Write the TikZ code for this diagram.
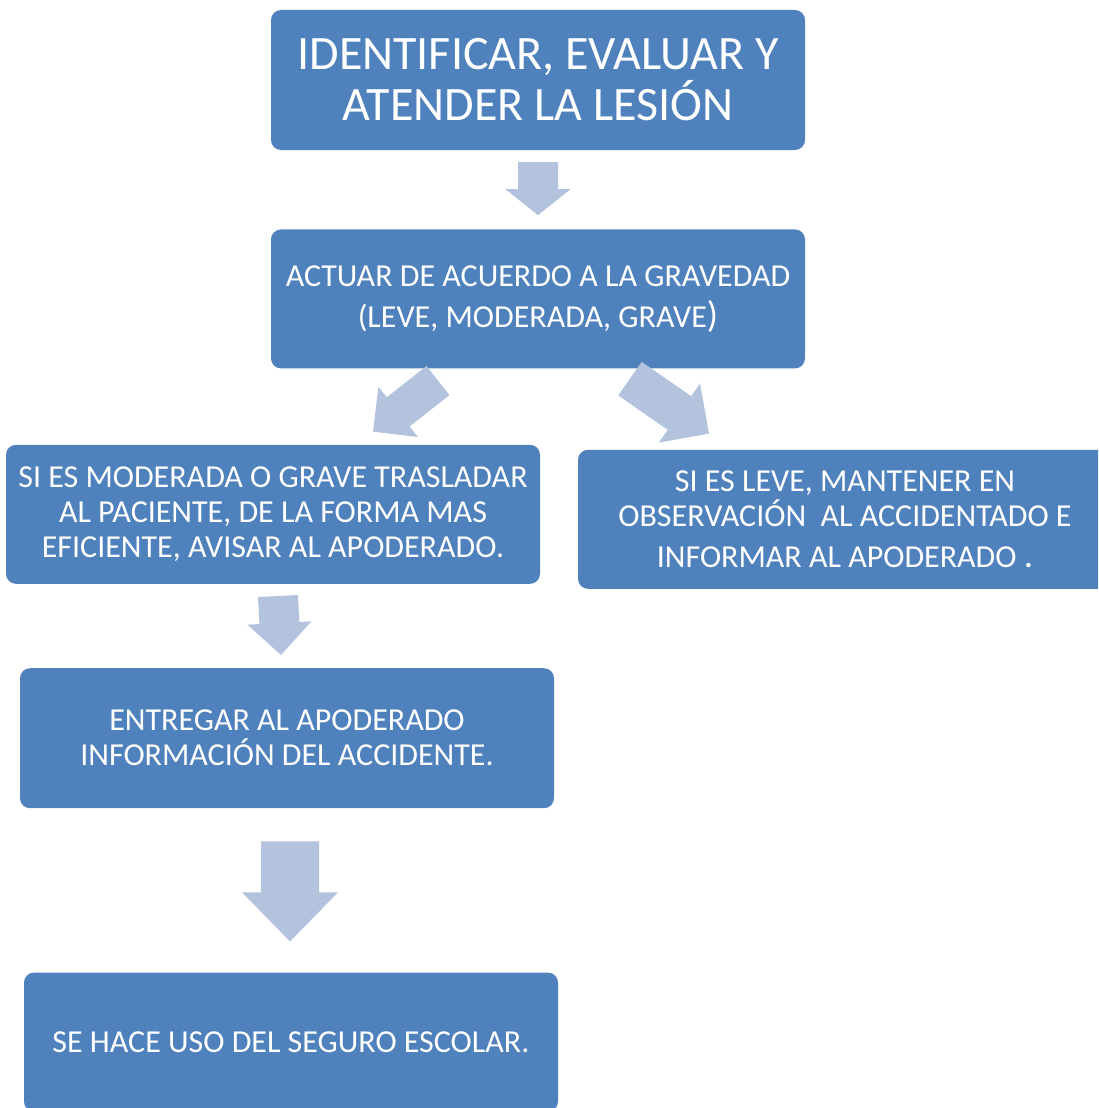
\documentclass[tikz,border=0pt]{standalone}
\usepackage{fontspec}
\setmainfont{Carlito}
\usetikzlibrary{positioning,calc}
\definecolor{boxblue}{RGB}{79,129,189}
\definecolor{arrowblue}{RGB}{179,194,221}
\newcommand{\blockarrow}[5]{%
	\coordinate (ba-tail) at (#1);
	\coordinate (ba-tip) at (#2);
	\coordinate (ba-base) at ($(ba-tip)!#5!(ba-tail)$);
	\fill[arrowblue] ($(ba-tail)!#3!90:(ba-tip)$) -- ($(ba-base)!#3!90:(ba-tip)$) -- ($(ba-base)!#4!90:(ba-tip)$) -- (ba-tip)
		-- ($(ba-base)!#4!-90:(ba-tip)$) -- ($(ba-base)!#3!-90:(ba-tip)$) -- ($(ba-tail)!#3!-90:(ba-tip)$) -- cycle;}

\begin{document}
\begin{tikzpicture}[x=1pt,y=1pt,
		box/.style={rectangle,rounded corners=10pt,fill=boxblue,text=white,align=center,
			minimum width=534pt,minimum height=139pt,inner sep=0pt,font=\fontsize{32}{35}\selectfont}]
			\useasboundingbox (0,0) rectangle (1098,-1108);
			\clip (0,0) rectangle (1098,-1108);
			\fill[white] (0,0) rectangle (1098,-1108);

			\node[box,minimum height=140pt,font=\fontsize{48}{51}\selectfont] (IDENTIFICAR) at (538,-80) {IDENTIFICAR, EVALUAR Y\\ATENDER LA LESIÓN};
			\node[box,font=\fontsize{32}{41}\selectfont] [below=79pt of IDENTIFICAR] (ACTUAR) {ACTUAR DE ACUERDO A LA GRAVEDAD\\(LEVE, MODERADA, GRAVE{\fontsize{37}{37}\selectfont)}};
			\node[box] [below=76pt of ACTUAR,xshift=-265pt] (MODERADA) {SI ES MODERADA O GRAVE TRASLADAR\\AL PACIENTE, DE LA FORMA MAS\\EFICIENTE, AVISAR AL APODERADO.};
			\node[box] [below=81pt of ACTUAR,xshift=307pt] (LEVE) {SI ES LEVE, MANTENER EN\\OBSERVACIÓN\ \ AL ACCIDENTADO E\\[6pt]INFORMAR AL APODERADO {\fontsize{37}{37}\selectfont.}};
			\node[box,minimum height=140pt] [below=84pt of MODERADA,xshift=14pt] (ENTREGAR) {ENTREGAR AL APODERADO\\INFORMACIÓN DEL ACCIDENTE.};
			\node[box] [below=164pt of ENTREGAR,xshift=4pt] (SEGURO) {SE HACE USO DEL SEGURO ESCOLAR.};

			\blockarrow{$(IDENTIFICAR.south)+(0,-12)$}{$(ACTUAR.north)+(0,14)$}{20pt}{32.5pt}{26pt}
			\blockarrow{$(ACTUAR.south)+(-100,-12)$}{$(MODERADA.north)+(100,13)$}{18.5pt}{32pt}{32pt}
			\blockarrow{$(ACTUAR.south)+(92,-10)$}{$(LEVE.north)+(-136,16)$}{20.5pt}{36pt}{36pt}
			\blockarrow{$(MODERADA.south)+(5,-12)$}{$(ENTREGAR.north)+(-6,13)$}{20pt}{32pt}{32pt}
			\blockarrow{$(ENTREGAR.south)+(3,-33)$}{$(SEGURO.north)+(-1,31)$}{29pt}{48pt}{49pt}
		\end{tikzpicture}
\end{document}
